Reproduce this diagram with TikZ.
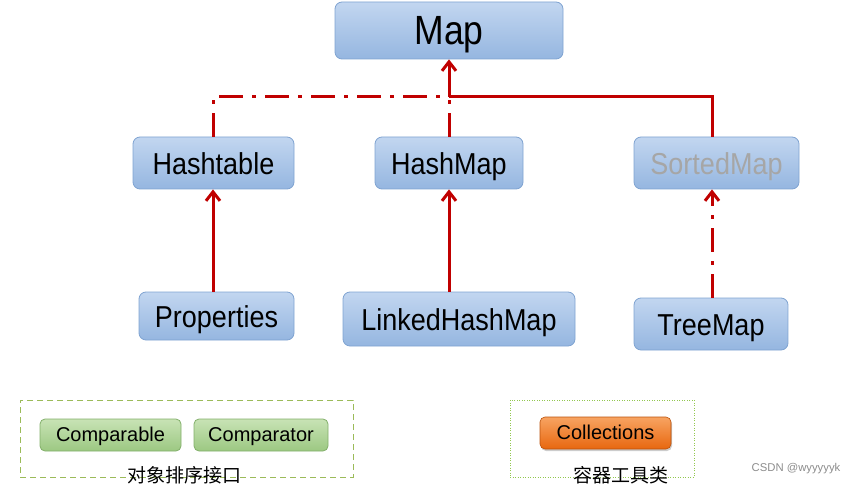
\documentclass[tikz,border=0pt]{standalone}
\usepackage{fontspec}
\setmainfont{Liberation Sans}
\newfontfamily\cjk{Noto Sans CJK SC}
\usetikzlibrary{arrows.meta,shadows}
\newcommand{\vstretch}[2]{\scalebox{1}[#1]{#2}}
\definecolor{lnred}{HTML}{C00000}
\definecolor{bluetop}{HTML}{C2D6F0}
\definecolor{bluebot}{HTML}{95B6E0}
\definecolor{blueline}{HTML}{7FA3D1}
\definecolor{greentop}{HTML}{C8E3B5}
\definecolor{greenbot}{HTML}{9CC882}
\definecolor{greenline}{HTML}{82AF6A}
\definecolor{orangetop}{HTML}{F8A462}
\definecolor{orangebot}{HTML}{E8670F}
\definecolor{boxgreen}{HTML}{9BBB59}
\definecolor{dotgreen}{HTML}{92C84F}
\tikzset{
  cls/.style={draw=blueline, line width=0.8pt, rounded corners=7pt,
    top color=bluetop, bottom color=bluebot, inner sep=0pt, anchor=center},
  gbox/.style={draw=greenline, line width=0.8pt, rounded corners=5pt,
    top color=greentop, bottom color=greenbot, inner sep=0pt},
  obox/.style={draw=orangebot!80!black, line width=0.6pt, rounded corners=5pt,
    top color=orangetop, bottom color=orangebot, inner sep=0pt,
    drop shadow={shadow xshift=1pt, shadow yshift=-2pt, opacity=0.4}},
  huge/.style={font=\fontsize{35.5}{40}\selectfont, text height=33pt, text depth=4pt},
  big/.style={font=\fontsize{27}{30}\selectfont, text height=26.5pt, text depth=2.9pt},
  small/.style={font=\fontsize{20}{23}\selectfont, text height=16pt, text depth=3pt},
  solidlink/.style={draw=lnred, line width=3pt},
  dashlink/.style={draw=lnred, line width=3pt, dash pattern=on 24pt off 9pt on 4pt off 9pt},
  arr/.style={-{Straight Barb[length=9pt,width=14pt,line width=3pt]}},
}
\begin{document}
\begin{tikzpicture}[x=1pt,y=-1pt]
\useasboundingbox (0,0) rectangle (856,486);
% class nodes
\node[cls, huge, minimum width=228pt, minimum height=57pt] (map) at (449,30.5) {\vstretch{1.15}{Map}};
\node[cls, big, minimum width=161pt, minimum height=52pt] (hashtable) at (213.5,163) {\vstretch{1.12}{Hashtable}};
\node[cls, big, minimum width=148pt, minimum height=52pt] (hashmap) at (449,163) {\vstretch{1.12}{HashMap}};
\node[cls, big, minimum width=165pt, minimum height=52pt, text=black!35] (sortedmap) at (716.5,163) {\vstretch{1.12}{SortedMap}};
\node[cls, big, minimum width=155pt, minimum height=48pt] (properties) at (216.5,316) {\vstretch{1.12}{Properties}};
\node[cls, big, minimum width=232pt, minimum height=54pt] (linked) at (459,319) {\vstretch{1.12}{LinkedHashMap}};
\node[cls, big, minimum width=154pt, minimum height=52pt] (treemap) at (711,324) {\vstretch{1.12}{TreeMap}};
% junction coordinates
\coordinate (jmid) at (449,97);
\coordinate (jleft) at (213,97);
\coordinate (jright) at (712,97);
% connectors
\draw[dashlink] (hashtable.north -| jleft) -- (jleft) -- (jmid);
\draw[dashlink] (hashmap.north) -- (jmid);
\draw[solidlink, line join=miter] (sortedmap.north -| jright) -- (jright) -- (jmid);
\draw[solidlink, arr] (jmid) -- (map.south);
\draw[solidlink, arr] (properties.north -| jleft) -- (hashtable.south -| jleft);
\draw[solidlink, arr] (linked.north -| jmid) -- (hashmap.south);
\draw[dashlink, arr] (treemap.north -| jright) -- (sortedmap.south -| jright);
% bottom groups
\node[draw=boxgreen, line width=1pt, dash pattern=on 6pt off 4pt, minimum width=333pt, minimum height=77pt, inner sep=0pt] (grp1) at (186.5,438.5) {};
\node[gbox, small, minimum width=141pt, minimum height=32pt] (comparable) at (110.5,435) {Comparable};
\node[gbox, small, minimum width=134pt, minimum height=32pt] (comparator) at (261,435) {Comparator};
\node[font=\cjk\fontsize{19}{21}\selectfont, inner sep=0pt] (lbl1) at (184,475) {对象排序接口};
\node[draw=dotgreen, line width=1pt, dash pattern=on 1pt off 1.5pt, minimum width=184pt, minimum height=77pt, inner sep=0pt] (grp2) at (602,438.5) {};
\node[obox, small, minimum width=131pt, minimum height=32pt] (collections) at (605.5,433) {Collections};
\node[font=\cjk\fontsize{19}{21}\selectfont, inner sep=0pt] (lbl2) at (621,475) {容器工具类};
\node[font=\fontsize{11.3}{13}\selectfont, text=black!45, inner sep=0pt] (wm) at (796,469) {CSDN @wyyyyyk};
\end{tikzpicture}
\end{document}
